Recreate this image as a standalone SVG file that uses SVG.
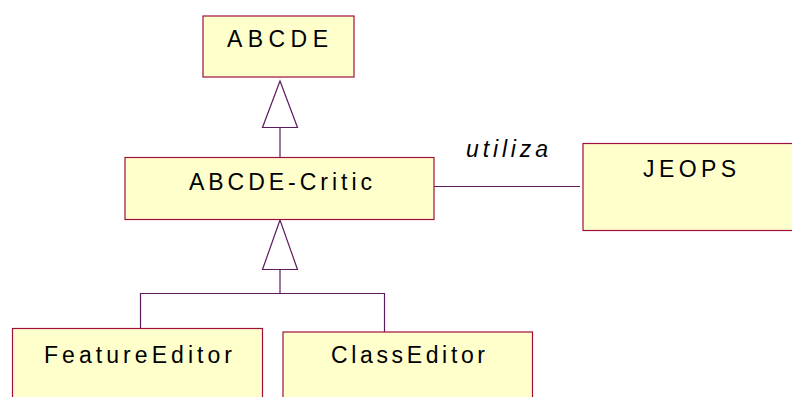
<svg xmlns="http://www.w3.org/2000/svg" width="792" height="397" viewBox="0 0 792 397">
<style>
.box{fill:#FFFFCC;stroke:#A0103F;stroke-width:1.2}
.lbl{font-family:"Liberation Sans",Arial,sans-serif;font-size:23px;fill:#000}
.it{font-style:italic}
.con{fill:none;stroke:#5E1A5E;stroke-width:1.2}
.tri{fill:#FFFFFF;stroke:#5E1A5E;stroke-width:1.2}
</style>
<rect width="792" height="397" fill="#FFFFFF"/>
<g id="connectors">
<polygon class="tri" points="280,81 262.5,127.5 297.5,127.5"/>
<line class="con" x1="280" y1="127.5" x2="280" y2="157"/>
<polygon class="tri" points="280,220 262.5,269.5 297.5,269.5"/>
<polyline class="con" points="280,269.5 280,293.5"/>
<polyline class="con" points="140.5,328.5 140.5,293.5 384.5,293.5 384.5,332"/>
<line class="con" x1="434" y1="186.5" x2="580" y2="186.5"/>
<text class="lbl it" x="466" y="157" textLength="82" lengthAdjust="spacing">utiliza</text>
</g>
<g id="ABCDE">
<rect class="box" x="203" y="16" width="151" height="61"/>
<text class="lbl" x="227" y="47" textLength="101" lengthAdjust="spacing">ABCDE</text>
</g>
<g id="ABCDE-Critic">
<rect class="box" x="125" y="157.5" width="309" height="62"/>
<text class="lbl" x="189" y="190" textLength="183" lengthAdjust="spacing">ABCDE-Critic</text>
</g>
<g id="JEOPS">
<rect class="box" x="583" y="143.5" width="220" height="87"/>
<text class="lbl" x="643" y="176.5" textLength="93" lengthAdjust="spacing">JEOPS</text>
</g>
<g id="FeatureEditor">
<rect class="box" x="12.5" y="328.5" width="250" height="80"/>
<text class="lbl" x="44" y="363" textLength="188" lengthAdjust="spacing">FeatureEditor</text>
</g>
<g id="ClassEditor">
<rect class="box" x="283" y="332" width="249.5" height="80"/>
<text class="lbl" x="331" y="363" textLength="154" lengthAdjust="spacing">ClassEditor</text>
</g>
</svg>
